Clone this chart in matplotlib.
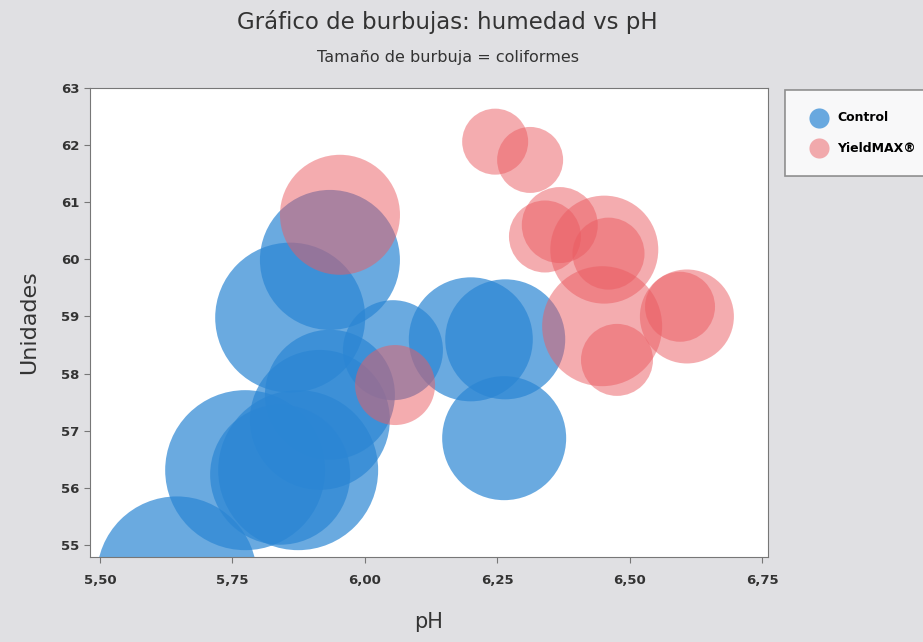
import numpy as np
import matplotlib
matplotlib.use("Agg")
import matplotlib.pyplot as plt

# bubble data (size = coliformes, arbitrary units)
ph_control = [5.645, 5.774, 5.859, 5.934, 5.874, 5.915, 5.934, 5.840, 6.053, 6.200, 6.265, 6.263]
hum_control = [54.45, 56.31, 58.98, 59.99, 56.31, 57.19, 57.63, 56.23, 58.41, 58.60, 58.60, 56.87]
coli_control = [80, 80, 75, 70, 80, 70, 65, 70, 50, 62, 60, 62]

ph_yield = [5.953, 6.057, 6.246, 6.312, 6.368, 6.340, 6.452, 6.460, 6.448, 6.476, 6.608, 6.595]
hum_yield = [60.78, 57.80, 62.06, 61.74, 60.60, 60.40, 60.17, 60.10, 58.83, 58.24, 59.00, 59.17]
coli_yield = [60, 40, 33, 33, 38, 36, 54, 36, 60, 36, 47, 35]

xticks = [5.50, 5.75, 6.00, 6.25, 6.50, 6.75]
yticks = [55, 56, 57, 58, 59, 60, 61, 62, 63]

bg = "#e0e0e3"
blue = "#2b86d4"
pink = "#eb5b61"

fig = plt.figure(figsize=(9.23, 6.42), dpi=100, facecolor=bg)
ax = fig.add_axes([0.0975, 0.1324, 0.7345, 0.7306])
ax.set_facecolor("white")

def size(c):
  # px radius -> marker area in pt^2
  return (2 * np.array(c) * 0.72) ** 2

ax.scatter(ph_control, hum_control, s=size(coli_control), color=blue, alpha=0.7,
           linewidths=0, label="Control")
ax.scatter(ph_yield, hum_yield, s=size(coli_yield), color=pink, alpha=0.5,
           linewidths=0, label="YieldMAX®")

ax.set_xlim(5.481, 6.761)
ax.set_ylim(54.79, 63.0)
ax.set_xticks(xticks)
ax.set_xticklabels([("%.2f" % v).replace(".", ",") for v in xticks], fontweight="bold")
ax.set_yticks(yticks)
ax.set_yticklabels([str(v) for v in yticks], fontweight="bold")
ax.tick_params(colors="#333333", labelsize=9.5, length=4, color="#777777")
ax.tick_params(axis="x", pad=8)
for sp in ax.spines.values():
  sp.set_color("#777777")

ax.set_xlabel("pH", fontsize=15, color="#333333", labelpad=18)
ax.set_ylabel("Unidades", fontsize=16, color="#333333", labelpad=16)

fig.text(0.485, 0.965, "Gráfico de burbujas: humedad vs pH", ha="center", va="center",
         fontsize=16.5, color="#333333")
fig.text(0.485, 0.911, "Tamaño de burbuja = coliformes", ha="center", va="center",
         fontsize=11.5, color="#333333")

leg = fig.legend(loc="upper left", bbox_to_anchor=(0.8505, 0.86), frameon=True,
                 fancybox=False, edgecolor="#777777", borderaxespad=0,
                 prop={"weight": "bold", "size": 9}, borderpad=1.7, labelspacing=1.4,
                 handletextpad=0.5)
leg.get_frame().set_linewidth(1.2)
for h in leg.legend_handles:
  h.set_sizes([210])

fig.savefig("out.png", dpi=100, facecolor=bg)
